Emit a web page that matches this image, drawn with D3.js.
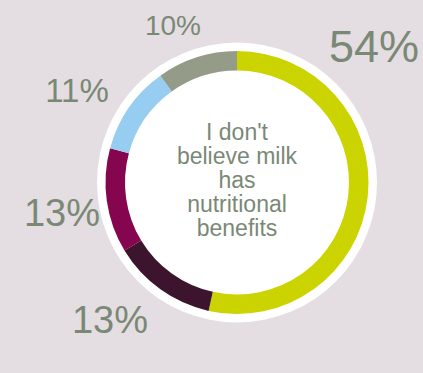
<!DOCTYPE html>
<html>
<head>
<meta charset="utf-8">
<script src="https://cdn.jsdelivr.net/npm/d3@7"></script>
<style>
  html, body { margin: 0; padding: 0; background: #e4dee2; }
  svg { display: block; }
  text { font-family: "Liberation Sans", Arial, sans-serif; fill: #7a8876; }
</style>
</head>
<body>
<svg id="chart" width="423" height="373"></svg>
<script>
// Share of answers, clockwise from the top
const categories = ["A", "B", "C", "D", "E"];
const values = [54, 13, 13, 11, 10];
const labels = ["54%", "13%", "13%", "11%", "10%"];
const colors = ["#cbd400", "#3c142d", "#86054f", "#97cdf0", "#959b89"];
const centerLines = ["I don't", "believe milk", "has", "nutritional", "benefits"];

// Label placement and sizes, one per slice
const labelPos = [[374, 62], [110, 333], [62, 226], [77, 102], [173, 35]];
const labelSize = [45, 38, 38, 33, 28];

const W = 423, H = 373;
const cx = 237, cy = 182.5;
const svg = d3.select("#chart");

svg.append("rect").attr("width", W).attr("height", H).attr("fill", "#e4dee2");

const g = svg.append("g").attr("transform", `translate(${cx},${cy})`);

// white disc behind the ring
g.append("circle").attr("r", 140).attr("fill", "#ffffff");

const pie = d3.pie().sort(null).value(d => d.v);
const arc = d3.arc().innerRadius(112).outerRadius(131.5);

const data = categories.map((c, i) => ({ c, v: values[i], i }));

g.selectAll("path.slice")
  .data(pie(data))
  .join("path")
  .attr("class", "slice")
  .attr("d", arc)
  .attr("fill", d => colors[d.data.i]);

// percentage labels
svg.selectAll("text.pct")
  .data(data)
  .join("text")
  .attr("class", "pct")
  .attr("x", d => labelPos[d.i][0])
  .attr("y", d => labelPos[d.i][1])
  .attr("text-anchor", "middle")
  .attr("font-size", d => labelSize[d.i])
  .text(d => labels[d.i]);

// centre caption
const lineH = 24;
const firstBaseline = 140;
svg.selectAll("text.cap")
  .data(centerLines)
  .join("text")
  .attr("class", "cap")
  .attr("x", cx)
  .attr("y", (d, i) => firstBaseline + i * lineH)
  .attr("text-anchor", "middle")
  .attr("font-size", 23)
  .text(d => d);
</script>
</body>
</html>
